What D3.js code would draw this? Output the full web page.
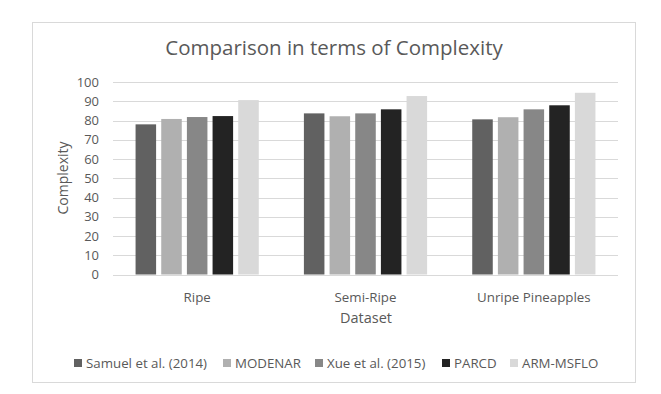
<!DOCTYPE html>
<html>
<head>
<meta charset="utf-8">
<script src="https://cdn.jsdelivr.net/npm/d3@7"></script>
<style>
  body { margin: 0; background: #fff; }
  text { font-family: "Open Sans", "Liberation Sans", sans-serif; fill: #595959; }
</style>
</head>
<body>
<script>
// data
var categories = ["Ripe", "Semi-Ripe", "Unripe Pineapples"];
var seriesNames = ["Samuel et al. (2014)", "MODENAR", "Xue et al. (2015)", "PARCD", "ARM-MSFLO"];
var seriesColors = ["#616161", "#b0b0b0", "#878787", "#232323", "#d9d9d9"];
var samuel = [78.0, 83.7, 80.6];
var modenar = [80.8, 82.2, 81.7];
var xue = [81.8, 83.7, 85.8];
var parcd = [82.3, 85.8, 87.9];
var armMsflo = [90.6, 92.7, 94.4];
var yTicks = [0, 10, 20, 30, 40, 50, 60, 70, 80, 90, 100];

var seriesValues = [samuel, modenar, xue, parcd, armMsflo];

var width = 661, height = 394;
var plotLeft = 113, plotRight = 618, plotTop = 82, plotBottom = 274.5;

var svg = d3.select("body").append("svg")
    .attr("width", width)
    .attr("height", height);

// chart frame
svg.append("rect")
    .attr("x", 32.5).attr("y", 22.5)
    .attr("width", 603).attr("height", 360)
    .attr("fill", "#fff")
    .attr("stroke", "#d9d9d9");

var x0 = d3.scaleBand()
    .domain(categories)
    .range([plotLeft, plotRight]);

var x1 = d3.scaleBand()
    .domain(seriesNames)
    .range([20, x0.bandwidth() - 20])
    .paddingInner(0.2)
    .paddingOuter(0.1);

var y = d3.scaleLinear()
    .domain([0, 100])
    .range([plotBottom, plotTop]);

// gridlines
svg.append("g").selectAll("line")
    .data(yTicks)
    .enter().append("line")
    .attr("x1", plotLeft).attr("x2", plotRight)
    .attr("y1", function(d) { return Math.round(y(d)) + 0.5; })
    .attr("y2", function(d) { return Math.round(y(d)) + 0.5; })
    .attr("stroke", "#d9d9d9")
    .attr("stroke-width", 1);

// y tick labels
var yAxis = d3.axisLeft(y).tickValues(yTicks).tickSize(0).tickPadding(14);
var yg = svg.append("g")
    .attr("transform", "translate(" + plotLeft + ",0)")
    .call(yAxis);
yg.select(".domain").remove();
yg.selectAll("text")
    .attr("font-size", 13)
    .attr("font-family", "\"Open Sans\", sans-serif")
    .attr("fill", "#595959");

// bars
var groups = svg.append("g").selectAll("g")
    .data(categories)
    .enter().append("g")
    .attr("transform", function(d) { return "translate(" + x0(d) + ",0)"; });

groups.selectAll("rect")
    .data(function(c, ci) {
        return seriesNames.map(function(s, si) {
            return { series: s, value: seriesValues[si][ci], color: seriesColors[si] };
        });
    })
    .enter().append("rect")
    .attr("x", function(d) { return x1(d.series); })
    .attr("width", x1.bandwidth())
    .attr("y", function(d) { return y(d.value); })
    .attr("height", function(d) { return plotBottom - y(d.value); })
    .attr("fill", function(d) { return d.color; });

// x axis labels
var xAxis = d3.axisBottom(x0).tickSize(0).tickPadding(18);
var xg = svg.append("g")
    .attr("transform", "translate(0," + plotBottom + ")")
    .call(xAxis);
xg.select(".domain").remove();
xg.selectAll("text")
    .attr("font-size", 13.3)
    .attr("font-family", "\"Open Sans\", sans-serif")
    .attr("fill", "#595959");

// title
svg.append("text")
    .attr("x", 334).attr("y", 55)
    .attr("text-anchor", "middle")
    .attr("font-size", 20.5)
    .text("Comparison in terms of Complexity");

// axis titles
svg.append("text")
    .attr("transform", "translate(68,178) rotate(-90)")
    .attr("text-anchor", "middle")
    .attr("font-size", 14)
    .text("Complexity");

svg.append("text")
    .attr("x", 366).attr("y", 323)
    .attr("text-anchor", "middle")
    .attr("font-size", 14.5)
    .text("Dataset");

// legend
var legendX = [74, 223, 315, 442, 510];
var legend = svg.append("g").selectAll("g")
    .data(seriesNames)
    .enter().append("g")
    .attr("transform", function(d, i) { return "translate(" + legendX[i] + ",359)"; });

legend.append("rect")
    .attr("width", 8).attr("height", 8)
    .attr("fill", function(d, i) { return seriesColors[i]; });

legend.append("text")
    .attr("x", 12).attr("y", 8.5)
    .attr("font-size", 13.3)
    .text(function(d) { return d; });
</script>
</body>
</html>
